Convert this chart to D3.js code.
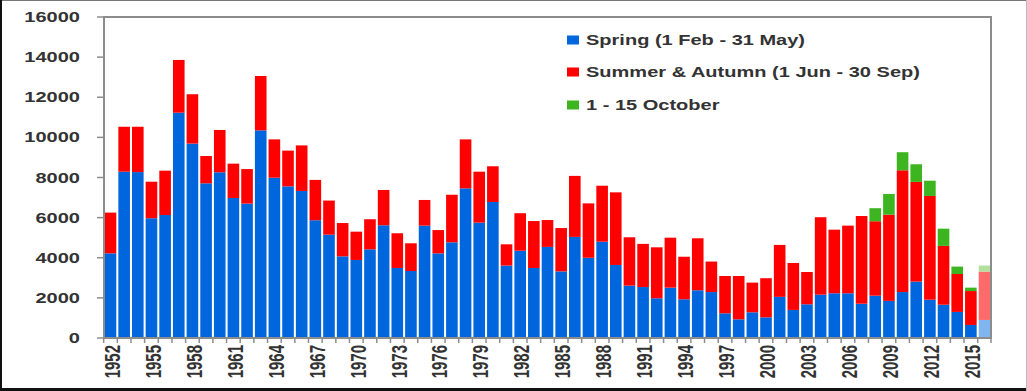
<!DOCTYPE html>
<html>
<head>
<meta charset="utf-8">
<script src="https://cdn.jsdelivr.net/npm/d3@7"></script>
<style>
  html, body { margin: 0; padding: 0; background: #fff; }
  svg { display: block; }
  text { font-family: "Liberation Sans", Arial, sans-serif; font-weight: bold; fill: #333; }
</style>
</head>
<body>
<svg id="chart" width="1027" height="391"></svg>
<script>
const years = d3.range(1952, 2017);
const spring = [4220,8290,8270,5970,6130,11230,9690,7710,8260,6980,6700,10350,7990,7560,7330,5870,5150,4070,3890,
  4420,5620,3490,3340,5600,4220,4770,7460,5750,6780,3610,4350,3490,4540,3320,5040,4000,4800,3640,2610,
  2540,1980,2510,1930,2380,2290,1230,930,1280,1030,2050,1400,1680,2160,2230,2230,1710,2110,1850,2290,
  2810,1910,1660,1300,650,900];
const summer = [2030,2240,2260,1820,2210,2630,2460,1360,2110,1710,1720,2710,1910,1780,2270,2010,1700,1660,1410,
  1500,1760,1730,1380,1280,1160,2370,2440,2540,1780,1060,1870,2340,1340,2160,3040,2710,2790,3620,2410,
  2150,2540,2490,2120,2590,1520,1860,2160,1480,1950,2590,2340,1610,3860,3170,3370,4370,3710,4300,6070,
  4970,5170,2930,1890,1690,2410];
const october = [0,0,0,0,0,0,0,0,0,0,0,0,0,0,0,0,0,0,0,
  0,0,0,0,0,0,0,0,0,0,0,0,0,0,0,0,0,0,0,0,
  0,0,0,0,0,0,0,0,0,0,0,0,0,0,0,0,0,650,1030,900,
  880,760,860,370,170,300];
const partialYears = [2016];
const seriesNames = ["Spring (1 Feb - 31 May)", "Summer & Autumn (1 Jun - 30 Sep)", "1 - 15 October"];
const yTicks = [0,2000,4000,6000,8000,10000,12000,14000,16000];

const colors = ["#0066dd", "#ff0000", "#3cb521"];
const lightColors = ["#80b6f0", "#ff6a6a", "#b4df9c"];
const SX = 1.43; // horizontal text stretch of the original picture

const svg = d3.select("#chart");
const W = 1027, H = 391;
const L = 104, R = 991, T = 17, B = 338;

const rows = years.map((y, i) => ({year: y, spring: spring[i], summer: summer[i], october: october[i]}));
const keys = ["spring", "summer", "october"];
const stacked = d3.stack().keys(keys)(rows);

const x = d3.scaleBand().domain(years).range([L, R]).paddingInner(0.15).paddingOuter(0.05);
const y = d3.scaleLinear().domain([0, 16000]).range([B, T]);

// outer picture border
svg.append("line").attr("x1", 0).attr("x2", W).attr("y1", 0.5).attr("y2", 0.5).attr("stroke", "#777").attr("stroke-width", 1);
svg.append("line").attr("x1", 1).attr("x2", 1).attr("y1", 0).attr("y2", H).attr("stroke", "#111").attr("stroke-width", 2);
svg.append("line").attr("x1", 0).attr("x2", W).attr("y1", 389.5).attr("y2", 389.5).attr("stroke", "#111").attr("stroke-width", 3);
svg.append("line").attr("x1", 1026.5).attr("x2", 1026.5).attr("y1", 0).attr("y2", H).attr("stroke", "#bbb").attr("stroke-width", 1);

// bars
stacked.forEach((layer, k) => {
  svg.append("g").selectAll("rect").data(layer).join("rect")
    .attr("x", d => x(d.data.year))
    .attr("width", x.bandwidth())
    .attr("y", d => y(d[1]))
    .attr("height", d => Math.max(0, y(d[0]) - y(d[1])))
    .attr("fill", d => partialYears.includes(d.data.year) ? lightColors[k] : colors[k]);
});

// frame and axes
const axisColor = "#8c8c8c";
svg.append("path").attr("d", `M${L},${B} V${T} H${R} V${B} H${L}`)
  .attr("fill", "none").attr("stroke", axisColor).attr("stroke-width", 2);

// y ticks
const yg = svg.append("g");
yTicks.forEach(t => {
  yg.append("line").attr("x1", L - 7).attr("x2", L).attr("y1", y(t)).attr("y2", y(t))
    .attr("stroke", axisColor).attr("stroke-width", 1.5);
  yg.append("text")
    .attr("transform", `translate(80,${y(t)}) scale(${SX},1)`)
    .attr("text-anchor", "end").attr("dy", "0.36em")
    .style("font-size", "14px").text(t);
});

// x ticks at band boundaries
const step = x.step();
const xg = svg.append("g");
years.forEach((yr, i) => {
  const bx = x(yr) - (step - x.bandwidth()) / 2;
  xg.append("line").attr("x1", bx).attr("x2", bx).attr("y1", B).attr("y2", B + 5)
    .attr("stroke", axisColor).attr("stroke-width", 1.5);
});
xg.append("line").attr("x1", R).attr("x2", R).attr("y1", B).attr("y2", B + 5)
  .attr("stroke", axisColor).attr("stroke-width", 1.5);
years.filter(yr => (yr - 1952) % 3 === 0).forEach(yr => {
  const cx = x(yr) + x.bandwidth() / 2 + 1.5;
  xg.append("text")
    .attr("transform", `translate(${cx},345) scale(${SX},1) rotate(-90)`)
    .attr("text-anchor", "end").attr("dy", "0.36em")
    .style("font-size", "15px").text(yr);
});

// legend
const legY = [40, 72, 105];
seriesNames.forEach((name, k) => {
  svg.append("rect").attr("x", 567).attr("y", legY[k] - 4.5).attr("width", 12).attr("height", 9).attr("fill", colors[k]);
  svg.append("text")
    .attr("transform", `translate(586,${legY[k]}) scale(${SX},1)`)
    .attr("dy", "0.36em").style("font-size", "14px").text(name);
});
</script>
</body>
</html>
